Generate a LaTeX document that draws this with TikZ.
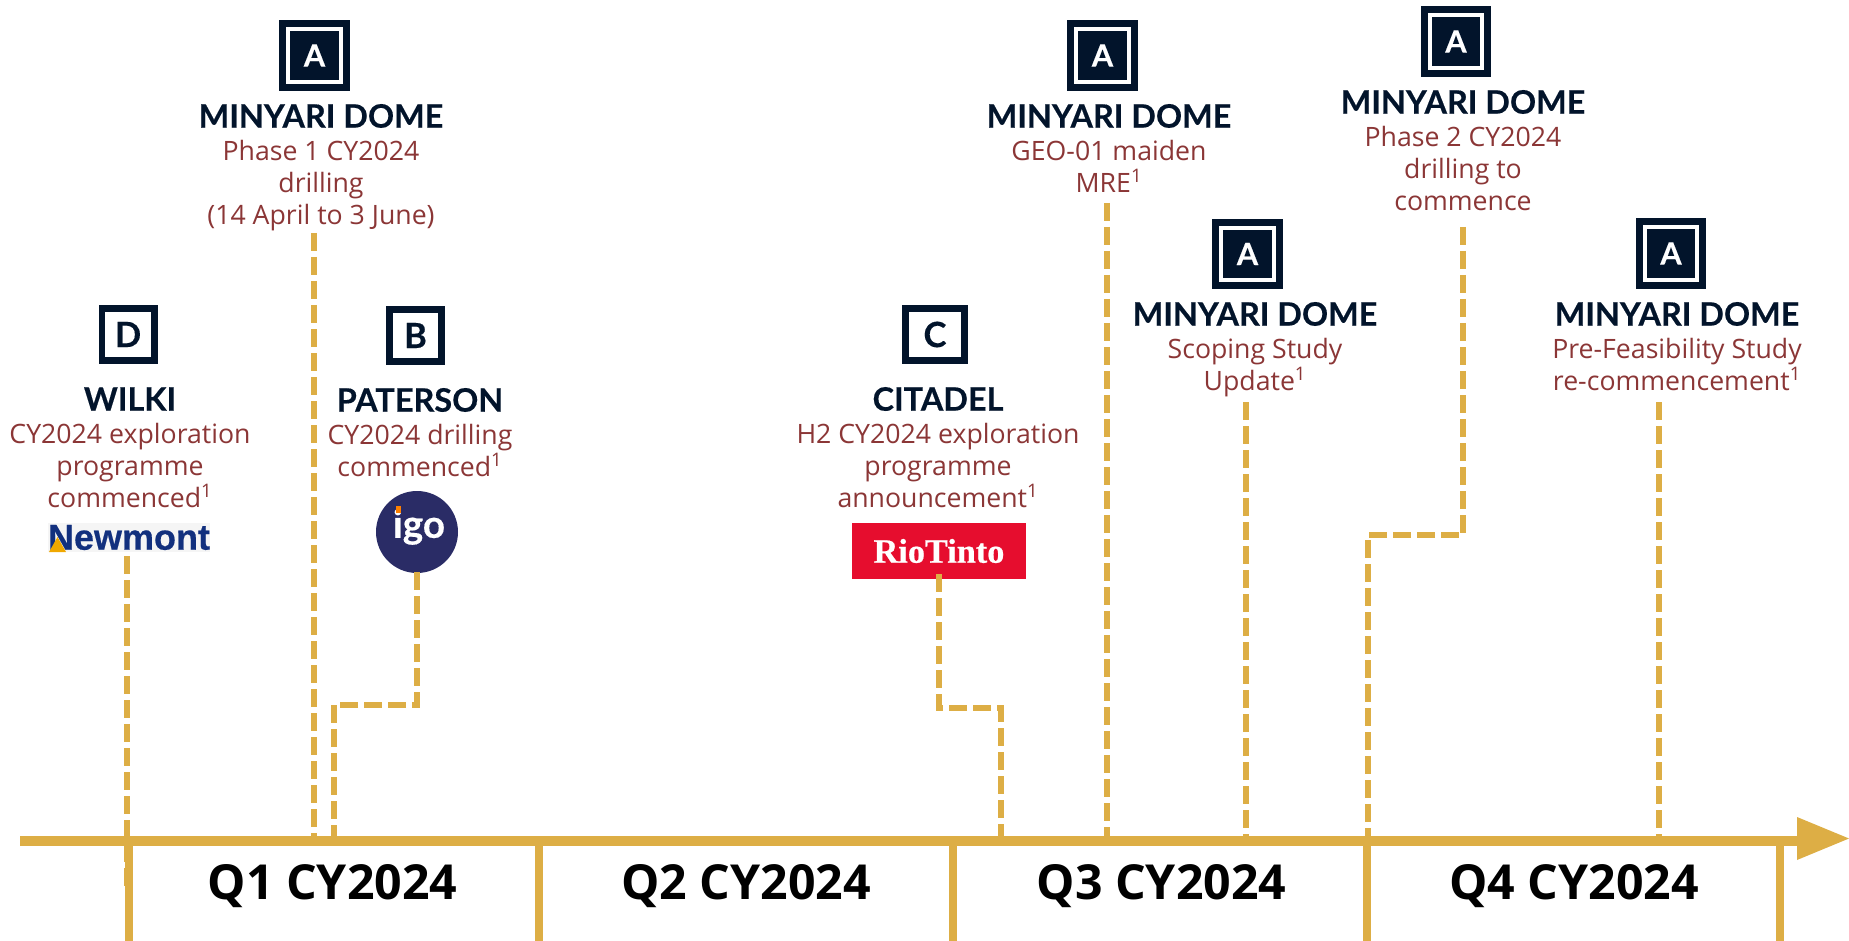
\documentclass[tikz,border=0pt]{standalone}
\usepackage{fontspec}
\setmainfont{Open Sans}
\newfontfamily\latofont{Lato}[BoldFeatures={FakeBold=0.35}]
\newfontfamily\logofont{Liberation Sans}[BoldFeatures={FakeBold=0.5}]
\newfontfamily\riofont{Liberation Serif}[BoldFeatures={FakeBold=0.6}]
\usepackage{xcolor}
\definecolor{navy}{HTML}{02142B}
\definecolor{gold}{HTML}{DDAE45}
\definecolor{maroon}{HTML}{8B3636}
\definecolor{newblue}{HTML}{12307E}
\definecolor{newyellow}{HTML}{F0A800}
\definecolor{igoblue}{HTML}{2A2C66}
\definecolor{riored}{HTML}{E60D2E}
\usetikzlibrary{positioning}
\tikzset{
  siteA/.style={rectangle,draw=navy,fill=navy,line width=5.25pt,double=white,double distance=3pt,minimum size=39.4pt,inner sep=0pt,text=white,font=\latofont\bfseries\fontsize{23}{23}\selectfont},
  siteB/.style={rectangle,draw=navy,fill=white,line width=5pt,minimum size=39.25pt,inner sep=0pt,text=navy,font=\latofont\bfseries\fontsize{26}{26}\selectfont},
  title/.style={text=navy,inner sep=0pt,font=\latofont\bfseries\fontsize{24.3}{24.3}\selectfont},
  desc/.style={text=maroon,align=center,inner sep=0pt,below=8.8pt of #1,font=\fontsize{20}{24}\selectfont,execute at begin node=\strut,execute at end node=\strut},
  quarter/.style={text=black,inner sep=0pt,font=\bfseries\fontsize{36.2}{36}\selectfont},
  stem/.style={draw=gold,line width=4.7pt,dash pattern=on 13.5pt off 4.5pt},
  tick/.style={draw=gold,line width=6pt},
}
\begin{document}
\begin{tikzpicture}[x=0.75pt,y=-0.75pt]
    \useasboundingbox (0,0) rectangle (1849,941);

    % sites
    \node[siteB] (wilkibox) at (128,334.5) {D};
    \node[title] (wilki) at (130,399) {WILKI};
    \node[desc=wilki] (wilkitxt) {CY2024 exploration\\programme\\commenced\textsuperscript{1}};
    \node[fill=black!4,minimum width=121.5pt,minimum height=21.75pt,inner sep=0pt,text=newblue,font=\logofont\bfseries\fontsize{27}{27}\selectfont] (newmont) at (129,537.5) {Newmont};
    \fill[newyellow] (49,552) -- (66,552) -- (57.5,537) -- cycle;

    \node[siteA] (phaseone) at (314.5,55.5) {A};
    \node[title] (phaseonehd) at (321,116) {MINYARI DOME};
    \node[desc=phaseonehd] (phaseonetxt) {Phase 1 CY2024\\drilling\\(14 April to 3 June)};

    \node[siteB] (patersonbox) at (415.5,335.5) {B};
    \node[title] (paterson) at (420,400) {PATERSON};
    \node[desc=paterson] (patersontxt) {CY2024 drilling\\commenced\textsuperscript{1}};
    \node[circle,fill=igoblue,minimum size=61.5pt,inner sep=0pt] (igo) at (417,532) {};
    \node[inner sep=0pt,text=white,font=\latofont\bfseries\fontsize{29}{29}\selectfont] (igotxt) at (419,527) {igo};
    \fill[orange] (395.5,506) rectangle (401,513);

    \node[siteB,minimum width=44pt] (citadelbox) at (935,334.5) {C};
    \node[title] (citadel) at (938,399) {CITADEL};
    \node[desc=citadel] (citadeltxt) {H2 CY2024 exploration\\programme\\announcement\textsuperscript{1}};
    \node[fill=riored,minimum width=130.5pt,minimum height=42pt,inner sep=0pt,text=white,font=\riofont\bfseries\fontsize{25.7}{25.7}\selectfont] (rio) at (939,551) {RioTinto};

    \node[siteA] (geo) at (1102.5,55.5) {A};
    \node[title] (geohd) at (1109,116) {MINYARI DOME};
    \node[desc=geohd] (geotxt) {GEO-01 maiden\\MRE\textsuperscript{1}};

    \node[siteA] (scoping) at (1247.5,254) {A};
    \node[title] (scopinghd) at (1255,314) {MINYARI DOME};
    \node[desc=scopinghd] (scopingtxt) {Scoping Study\\Update\textsuperscript{1}};

    \node[siteA] (phasetwo) at (1456,41.5) {A};
    \node[title] (phasetwohd) at (1463,102) {MINYARI DOME};
    \node[desc=phasetwohd] (phasetwotxt) {Phase 2 CY2024\\drilling to\\commence};

    \node[siteA] (prefeas) at (1671,253.5) {A};
    \node[title] (prefeashd) at (1677,314) {MINYARI DOME};
    \node[desc=prefeashd] (prefeastxt) {Pre-Feasibility Study\\re-commencement\textsuperscript{1}};

    % quarters
    \node[quarter] (qone) at (332.5,886.5) {Q1 CY2024};
    \node[quarter] (qtwo) at (746,886.5) {Q2 CY2024};
    \node[quarter] (qthree) at (1161.5,886.5) {Q3 CY2024};
    \node[quarter] (qfour) at (1574,886.5) {Q4 CY2024};

    \coordinate (axisstart) at (20,841);
    \coordinate (axisend) at (1797,841);
    \coordinate (tipend) at (1849,838.5);

    % stems
    \path[stem] (127,556) -- (127,886);
    \path[stem] (314,233) -- (314,838);
    \path[stem] (417,572) -- (417,705) -- (334,705) -- (334,838);
    \path[stem] (939,574) -- (939,708) -- (1001,708) -- (1001,838);
    \path[stem] (1107,203) -- (1107,838);
    \path[stem] (1246,402) -- (1246,838);
    \path[stem] (1463,227) -- (1463,535) -- (1368,535) -- (1368,838);
    \path[stem] (1659,402) -- (1659,838);

    % axis
    \path[draw=gold,line width=7.5pt] (axisstart) -- (axisend);
    \fill[gold] (1797,817) -- (tipend) -- (1797,860) -- cycle;
    \path[tick] (129,841) -- (129,941);
    \path[tick] (539,841) -- (539,941);
    \path[tick] (953,841) -- (953,941);
    \path[tick] (1367,841) -- (1367,941);
    \path[tick] (1780,841) -- (1780,941);
\end{tikzpicture}
\end{document}
